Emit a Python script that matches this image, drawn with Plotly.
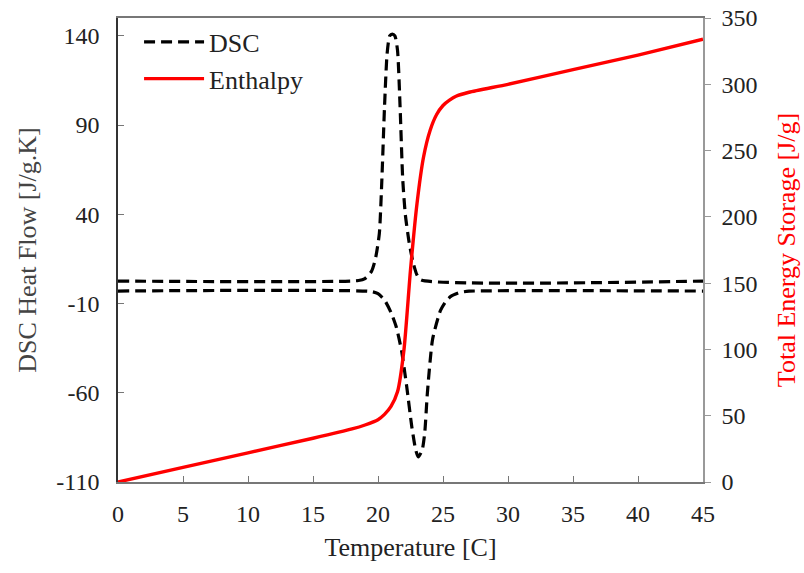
import plotly.graph_objects as go

# Enthalpy (right axis)
temp_h = [0, 5, 10, 15, 18, 19, 20, 20.5, 21, 21.5, 22, 22.5, 23, 23.5, 24, 24.5, 25, 25.5, 26, 27, 30, 35, 40, 45]
enthalpy = [0, 11, 22, 33, 40, 43, 47, 51, 57, 68, 100, 160, 210, 245, 265, 277, 284, 288, 291, 294, 300, 311, 322, 334]

# DSC heating curve (upward peak)
temp_up = [0, 18.5, 19.0, 19.5, 19.8, 20.1, 20.3, 20.5, 20.7, 20.9, 21.1, 21.3, 21.5, 21.7, 21.9, 22.1, 22.4, 22.7, 23.0, 23.3, 45]
dsc_up = [2.6, 2.9, 4, 8, 15, 29, 60, 100, 130, 140, 141, 140, 132, 100, 60, 40, 24, 13, 6, 3.2, 2.6]

# DSC cooling curve (downward peak)
temp_dn = [0, 19.5, 20.0, 20.5, 21.0, 21.4, 21.8, 22.2, 22.6, 22.9, 23.1, 23.4, 23.6, 23.8, 24.2, 24.8, 25.2, 25.6, 26.3, 27, 45]
dsc_dn = [-3, -3.3, -4.5, -8, -15, -23, -36, -56, -79, -92, -96, -92, -82, -60, -30, -14, -9, -6, -3.8, -3.1, -3]

x_ticks = [0, 5, 10, 15, 20, 25, 30, 35, 40, 45]
y_ticks = [-110, -60, -10, 40, 90, 140]
y_tick_labels = ["-110", "-60", "-10", "40", "90", "140"]
y2_ticks = [0, 50, 100, 150, 200, 250, 300, 350]

FONT = "Liberation Serif"
dash = "11px,6px"

fig = go.Figure()
fig.add_trace(go.Scatter(x=temp_up, y=dsc_up, mode="lines", name="DSC",
                         line=dict(color="black", width=3.2, dash=dash, shape="spline", smoothing=0.6)))
fig.add_trace(go.Scatter(x=temp_dn, y=dsc_dn, mode="lines", name="DSC2", showlegend=False,
                         line=dict(color="black", width=3.2, dash=dash, shape="spline", smoothing=0.6)))
fig.add_trace(go.Scatter(x=temp_h, y=enthalpy, mode="lines", name="Enthalpy", yaxis="y2",
                         line=dict(color="#ff0000", width=3.4, shape="spline", smoothing=0.6)))

fig.update_layout(
    width=804, height=573,
    margin=dict(l=118, r=101, t=18, b=91),
    paper_bgcolor="white", plot_bgcolor="white",
    font=dict(family=FONT, size=24, color="#222"),
    showlegend=True,
    legend=dict(x=0.036, y=0.999, xanchor="left", yanchor="top",
                bgcolor="rgba(0,0,0,0)", font=dict(family=FONT, size=26, color="#222"),
                itemwidth=60, tracegroupgap=0),
    xaxis=dict(range=[0, 45], tickvals=x_ticks, showgrid=False, zeroline=False, automargin=False,
               showline=True, linecolor="#777", linewidth=1.5, mirror=True,
               ticks="inside", ticklen=6, tickcolor="#777", ticklabelstandoff=9,
               tickfont=dict(family=FONT, size=24, color="#222"),
               title=dict(text="Temperature [C]", font=dict(family=FONT, size=26, color="#222"), standoff=12)),
    yaxis=dict(range=[-110, 150], tickvals=y_ticks, ticktext=y_tick_labels, showgrid=False, zeroline=False,
               automargin=False,
               showline=True, linecolor="#333", linewidth=1.5,
               ticks="inside", ticklen=6, tickcolor="#777", ticklabelstandoff=12,
               tickfont=dict(family=FONT, size=24, color="#222"),
               title=dict(text="DSC Heat Flow [J/g.K]", font=dict(family=FONT, size=26, color="#444"), standoff=12)),
    yaxis2=dict(range=[0, 350], tickvals=y2_ticks, overlaying="y", side="right",
                showgrid=False, zeroline=False, automargin=False,
                showline=True, linecolor="#999", linewidth=1.5,
                ticks="outside", ticklen=6, tickcolor="#999", ticklabelstandoff=6,
                tickfont=dict(family=FONT, size=24, color="#222"),
                title=dict(text="Total Energy Storage [J/g]", font=dict(family=FONT, size=26, color="#ff0000"), standoff=20)),
)

fig.write_html("out.html")
